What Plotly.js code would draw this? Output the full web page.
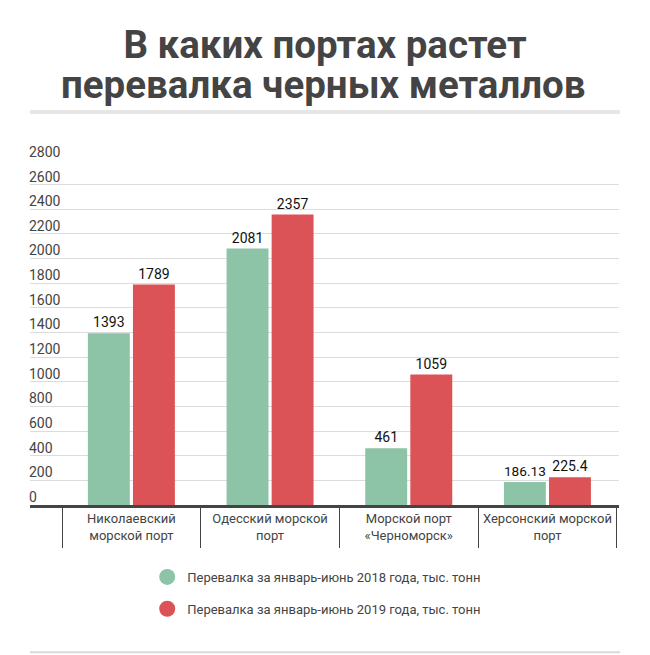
<!DOCTYPE html>
<html>
<head>
<meta charset="utf-8">
<script src="https://cdn.plot.ly/plotly-3.0.1.min.js"></script>
<style>html,body{margin:0;padding:0;background:#fff;}#chart{width:650px;height:655px;}</style>
</head>
<body>
<div id="chart"></div>
<script>
const categories = [
  'Николаевский<br>морской порт',
  'Одесский морской<br>порт',
  'Морской порт<br>«Черноморск»',
  'Херсонский морской<br>порт'
];
const values2018 = [1393, 2081, 461, 186.13];
const values2019 = [1789, 2357, 1059, 225.4];
const series2018Name = 'Перевалка за январь-июнь 2018 года, тыс. тонн';
const series2019Name = 'Перевалка за январь-июнь 2019 года, тыс. тонн';
const yTicks = [0, 200, 400, 600, 800, 1000, 1200, 1400, 1600, 1800, 2000, 2200, 2400, 2600, 2800];
const titleLine1 = 'В каких портах растет';
const titleLine2 = 'перевалка черных металлов';

const green = '#8dc3a7';
const red = '#db5356';
const font = 'Roboto, sans-serif';
const titleFont = {family: font, size: 38.5, color: '#444', weight: 700};

const data = [
  {type: 'bar', x: categories, y: values2018, name: series2018Name, showlegend: false,
   marker: {color: green}, text: values2018.map(String), textposition: 'outside',
   textfont: {family: font, size: 14, color: '#111'}, cliponaxis: false, hoverinfo: 'skip'},
  {type: 'bar', x: categories, y: values2019, name: series2019Name, showlegend: false,
   marker: {color: red}, text: values2019.map(String), textposition: 'outside',
   textfont: {family: font, size: 14, color: '#111'}, cliponaxis: false, hoverinfo: 'skip'},
  {type: 'scatter', mode: 'markers', x: [null], y: [null], name: series2018Name,
   legendgroup: 'a', marker: {color: green, size: 17, symbol: 'circle'}},
  {type: 'scatter', mode: 'markers', x: [null], y: [null], name: series2019Name,
   legendgroup: 'b', marker: {color: red, size: 17, symbol: 'circle'}}
];

const layout = {
  width: 650, height: 655,
  margin: {l: 30, r: 31, t: 160, b: 150, pad: 0},
  paper_bgcolor: '#fff', plot_bgcolor: '#fff',
  font: {family: font, size: 13, color: '#444'},
  title: {text: titleLine1, font: titleFont,
          x: 0.5, xanchor: 'center', y: 1 - 45 / 655, yanchor: 'middle', yref: 'container'},
  annotations: [
    {text: titleLine2, font: titleFont, showarrow: false, xref: 'paper', yref: 'paper',
     x: 0.4975, xanchor: 'center', y: (505 - 84) / 345, yanchor: 'middle'}
  ],
  barmode: 'group', bargap: 0.35, bargroupgap: 0.07,
  xaxis: {type: 'category', categoryarray: categories, range: [-0.731, 3.516],
          showgrid: false, showline: true, linecolor: '#444', linewidth: 2.5,
          ticks: 'outside', tickson: 'boundaries', ticklen: 40, tickwidth: 1, tickcolor: '#444',
          tickfont: {family: font, size: 13, color: '#444'}, fixedrange: true},
  yaxis: {range: [0, 2800], tickvals: yTicks, ticktext: yTicks.map(String),
          showgrid: true, gridcolor: '#dcdcdc', gridwidth: 1, zeroline: false, showline: false,
          ticklabelposition: 'inside', ticklabelshift: -8, ticklabelstandoff: -4,
          ticklabeloverflow: 'allow',
          tickfont: {family: font, size: 14, color: '#444'}, fixedrange: true},
  legend: {x: 0.199, xanchor: 'left', y: -0.165, yanchor: 'top', orientation: 'v',
           traceorder: 'grouped', tracegroupgap: 12,
           font: {family: font, size: 13, color: '#444'}, bgcolor: 'rgba(0,0,0,0)'},
  shapes: [
    {type: 'line', xref: 'paper', yref: 'paper', x0: 0, x1: 1.0017, y0: 1.139, y1: 1.139,
     line: {color: '#e6e6e6', width: 4}},
    {type: 'line', xref: 'paper', yref: 'paper', x0: 0, x1: 1.0017, y0: -0.4268, y1: -0.4268,
     line: {color: '#d9d9d9', width: 2}}
  ],
  showlegend: true
};

Plotly.newPlot('chart', data, layout, {displayModeBar: false, staticPlot: true});
</script>
</body>
</html>
